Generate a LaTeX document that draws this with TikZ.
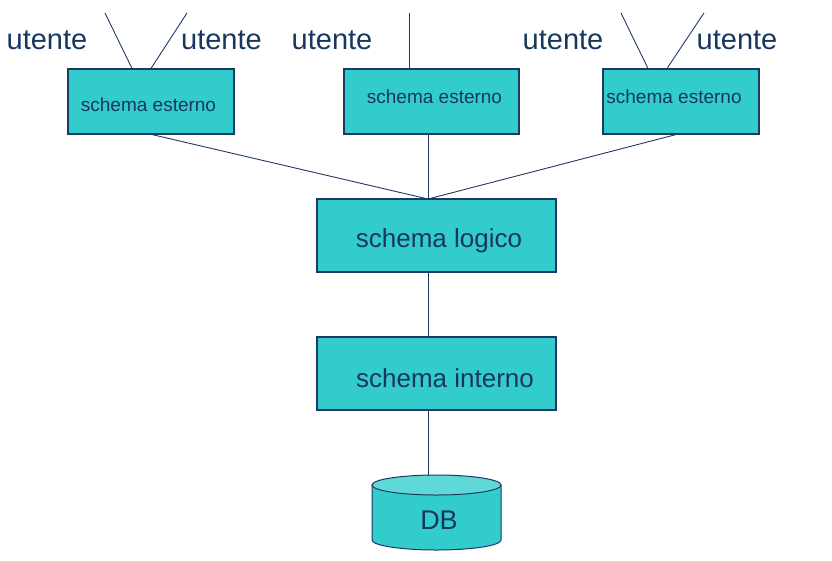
\documentclass[tikz,border=0pt]{standalone}
\usepackage{fontspec}
\setmainfont{Liberation Sans}
\definecolor{boxfill}{HTML}{33CCCC}
\definecolor{dbtop}{HTML}{5FD8D8}
\definecolor{edge}{HTML}{1F3864}
\definecolor{txt}{HTML}{17375E}
\begin{document}
\begin{tikzpicture}[x=1pt,y=-1pt,
  box/.style={draw=edge,fill=boxfill,line width=1.1pt,inner sep=0pt},
  wire/.style={draw=edge,line width=0.9pt},
  small/.style={text=txt,font=\fontsize{19}{22}\selectfont,inner sep=0pt},
  big/.style={text=txt,font=\fontsize{26}{30}\selectfont,inner sep=0pt},
  user/.style={text=txt,font=\fontsize{29}{33}\selectfont,inner sep=0pt}]
\useasboundingbox (0,0) rectangle (832,560);
% external schemas
\node[box,minimum width=166pt,minimum height=65pt] (e1) at (151,101.5) {};
\node[box,minimum width=175pt,minimum height=65pt] (e2) at (431.5,101.5) {};
\node[box,minimum width=156pt,minimum height=65pt] (e3) at (681,101.5) {};
\node[small] (t1) at (148.5,105) {schema esterno};
\node[small] (t2) at (434.5,97) {schema esterno};
\node[small] (t3) at (674,97) {schema esterno};
% users
\node[user] (u1) at (47,40) {utente};
\node[user] (u2) at (221.5,40) {utente};
\node[user] (u3) at (332,40) {utente};
\node[user] (u4) at (563,40) {utente};
\node[user] (u5) at (737,40) {utente};
\coordinate (w1) at (105,13);
\coordinate (w2) at (187,13);
\coordinate (w3) at (409,13);
\coordinate (w4) at (621,13);
\coordinate (w5) at (704,13);
\draw[wire] (w1) -- (e1.north -| 132,0);
\draw[wire] (w2) -- (e1.north -| 151,0);
\draw[wire] (w3) -- (e2.north -| 409,0);
\draw[wire] (w4) -- (e3.north -| 648,0);
\draw[wire] (w5) -- (e3.north -| 667,0);
% logical and internal
\node[box,minimum width=239pt,minimum height=73pt] (log) at (436.5,235.5) {};
\node[big] (tl) at (439,241) {schema logico};
\node[box,minimum width=239pt,minimum height=73pt] (int) at (436.5,373.5) {};
\node[big] (ti) at (445,378) {schema interno};
\coordinate (hub) at (428,199);
\draw[wire] (e1.south -| 152,0) -- (hub);
\draw[wire] (e2.south -| 428,0) -- (hub);
\draw[wire] (e3.south -| 676,0) -- (hub);
\draw[wire] (log.south -| hub) -- (int.north -| hub);
% DB cylinder
\coordinate (dbtopc) at (428,476);
\draw[edge,line width=1pt,fill=boxfill] (372,485) -- (372,540) arc[start angle=180,end angle=0,x radius=64.5,y radius=10] -- (501,485) -- cycle;
\draw[edge,line width=1pt,fill=dbtop] (436.5,485) ellipse[x radius=64.5,y radius=10];
\node[big,font=\fontsize{27}{30}\selectfont] (db) at (439,520) {DB};
\draw[wire] (int.south -| hub) -- (dbtopc);
\end{tikzpicture}
\end{document}
